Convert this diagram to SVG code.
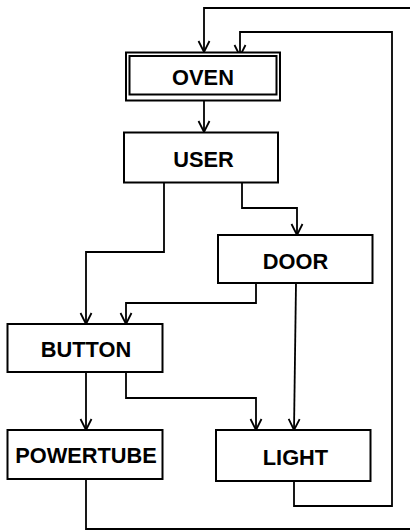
<svg xmlns="http://www.w3.org/2000/svg" width="410" height="530" viewBox="0 0 410 530">
<style>
.box{fill:#fff;stroke:#000;stroke-width:2}
.lbl{font-family:"Liberation Sans",Arial,sans-serif;font-weight:bold;font-size:21.8px;text-anchor:middle;fill:#000}
.edge{fill:none;stroke:#000;stroke-width:1.8}
</style>
<defs>
<marker id="arr" markerUnits="userSpaceOnUse" markerWidth="14" markerHeight="14" viewBox="-12 -7 14 14" refX="0" refY="0" orient="auto">
<path d="M-11,-5.5 L0,0 L-11,5.5" fill="none" stroke="#000" stroke-width="1.8"/>
</marker>
</defs>
<rect width="410" height="530" fill="#fff"/>
<g id="connectors">
<path class="edge" d="M204,101 V132" marker-end="url(#arr)"/>
<path class="edge" d="M164,182 V252 H86 V324" marker-end="url(#arr)"/>
<path class="edge" d="M242,182 V208 H297 V235" marker-end="url(#arr)"/>
<path class="edge" d="M256,283 V303 H126 V324" marker-end="url(#arr)"/>
<path class="edge" d="M296,283 L294,430" marker-end="url(#arr)"/>
<path class="edge" d="M86,372 V430" marker-end="url(#arr)"/>
<path class="edge" d="M126,372 V398 H256 V430" marker-end="url(#arr)"/>
<path class="edge" d="M294,481 V506 H392 V32 H240 V56" marker-end="url(#arr)"/>
<path class="edge" d="M86,479 V529 H420 V8 H204 V52" marker-end="url(#arr)"/>
</g>
<g id="oven">
<rect class="box" x="126" y="52.5" width="154" height="48"/>
<rect class="box" x="129.5" y="56" width="147" height="38.5"/>
<text class="lbl" x="203" y="85">OVEN</text>
</g>
<g id="user">
<rect class="box" x="124" y="132.5" width="154" height="50"/>
<text class="lbl" x="203.5" y="166.5">USER</text>
</g>
<g id="door">
<rect class="box" x="218" y="235" width="154.5" height="48"/>
<text class="lbl" x="295.5" y="268.5">DOOR</text>
</g>
<g id="button">
<rect class="box" x="7.5" y="324" width="155" height="48"/>
<text class="lbl" x="86" y="356.5">BUTTON</text>
</g>
<g id="powertube">
<rect class="box" x="7.5" y="430" width="155" height="49"/>
<text class="lbl" x="86" y="462.5">POWERTUBE</text>
</g>
<g id="light">
<rect class="box" x="216" y="430" width="154.5" height="51"/>
<text class="lbl" x="295.5" y="464.5">LIGHT</text>
</g>
</svg>
